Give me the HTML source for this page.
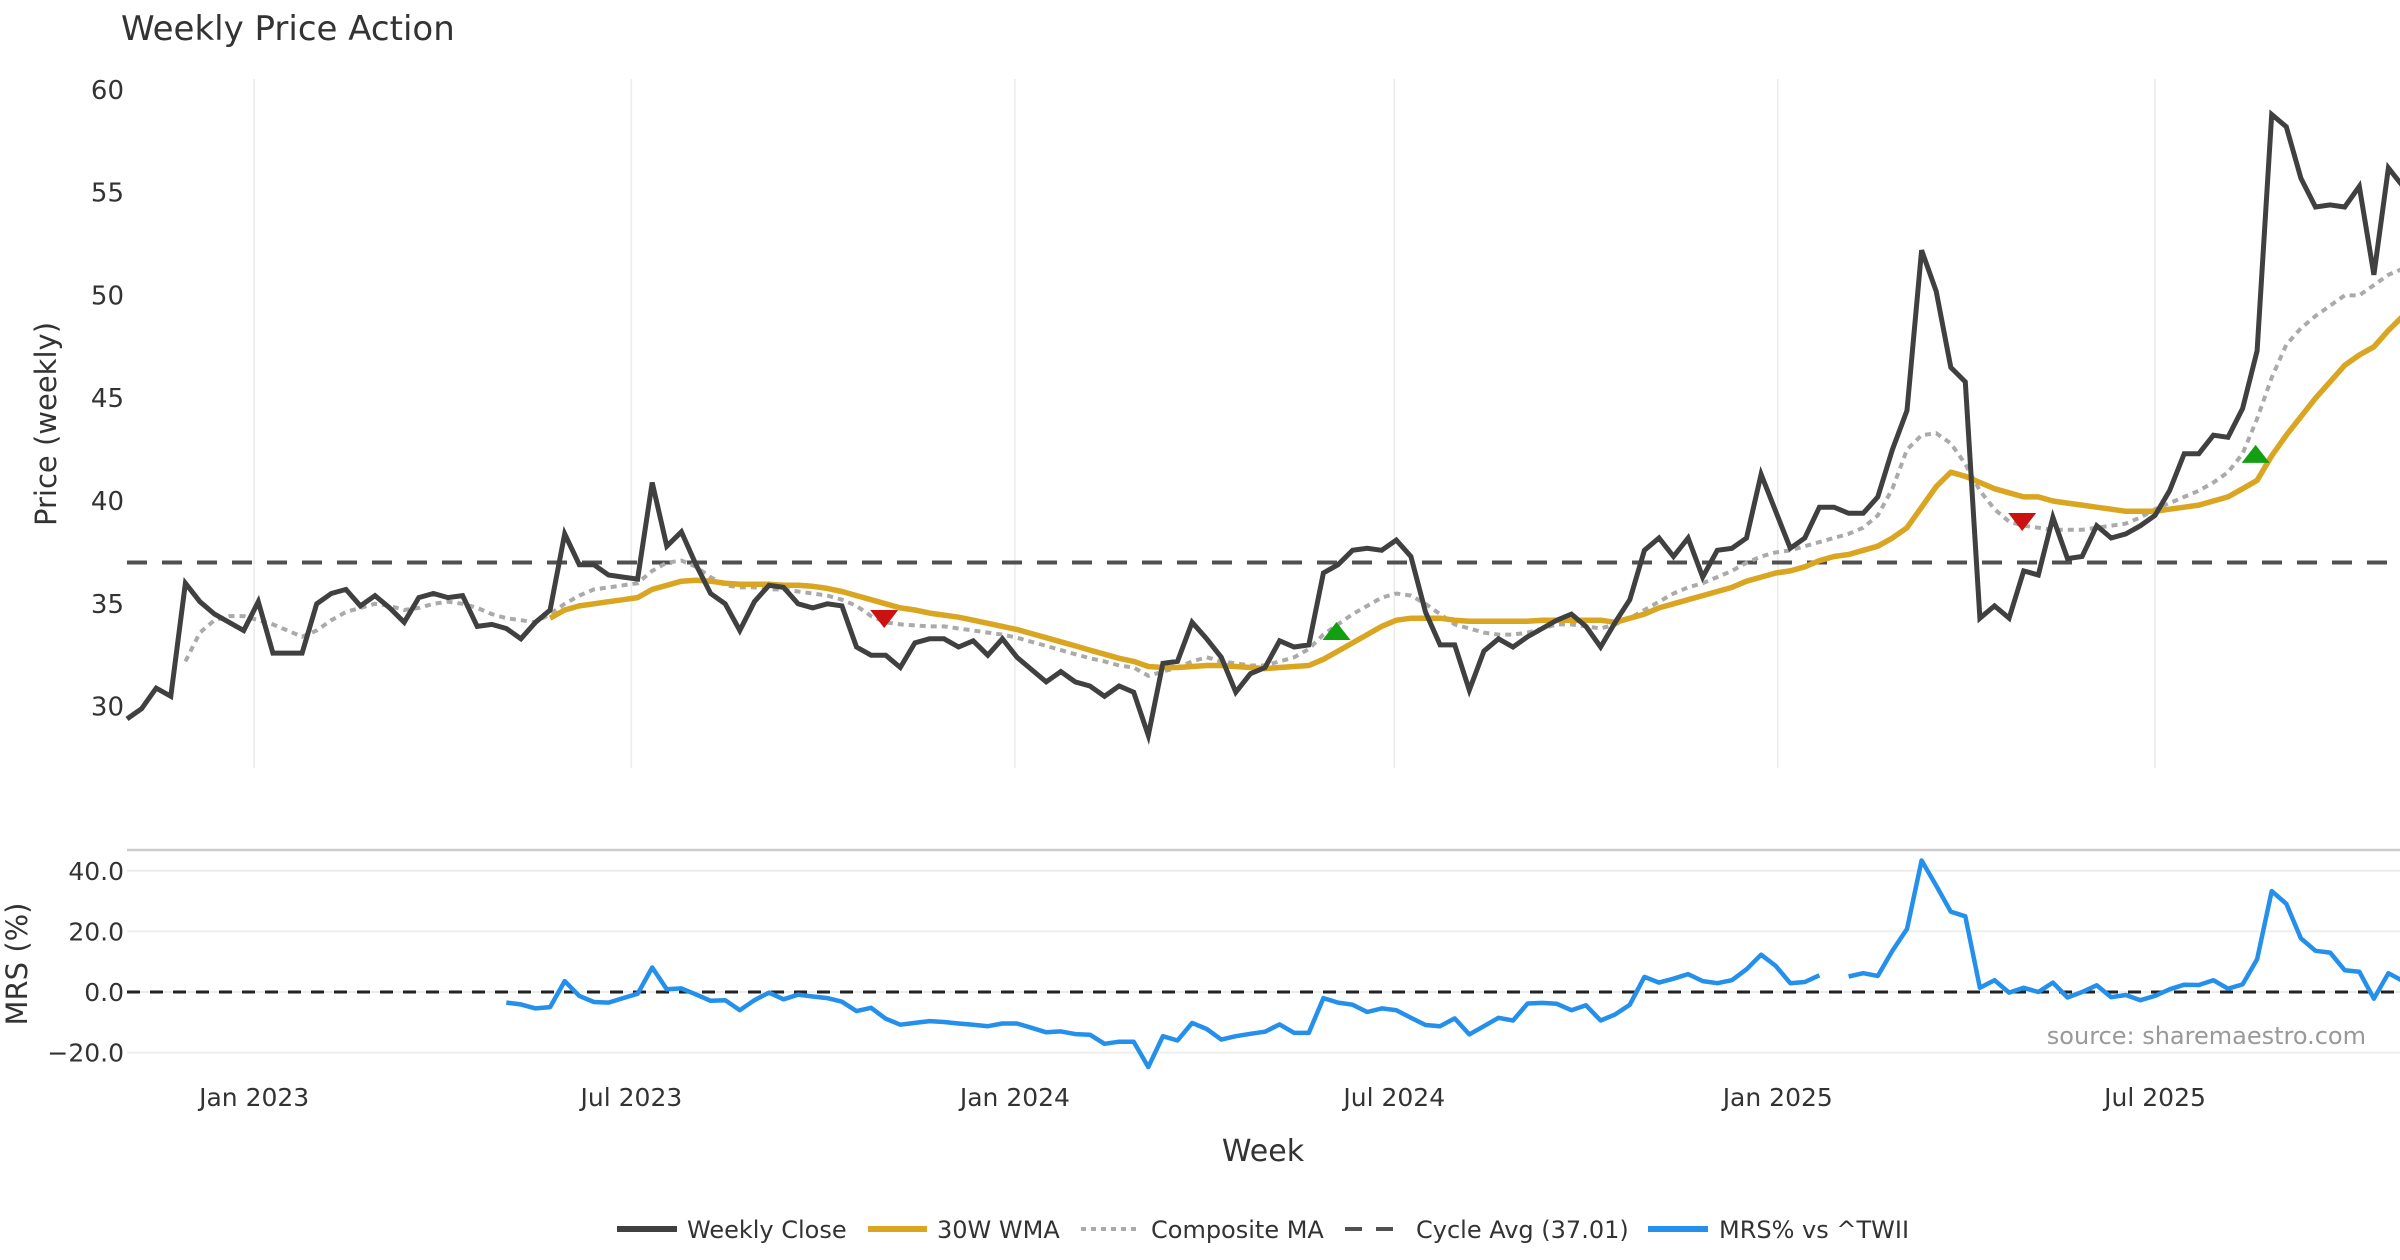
<!DOCTYPE html>
<html><head><meta charset="utf-8">
<style>
html,body{margin:0;padding:0;background:#fff;}
svg{display:block;font-family:"DejaVu Sans","Liberation Sans",sans-serif;}
</style></head>
<body>
<svg id="chart" width="2400" height="1260" viewBox="0 0 2400 1260" xmlns="http://www.w3.org/2000/svg">
  <text x="121" y="40" font-size="34" fill="#333">Weekly Price Action</text>
  <g id="grid"></g>
  <g id="axes"></g>
  <g id="series"></g>
  <text transform="translate(56,424) rotate(-90)" text-anchor="middle" font-size="29" fill="#333">Price (weekly)</text>
  <text transform="translate(27,964) rotate(-90)" text-anchor="middle" font-size="29" fill="#333">MRS (%)</text>
  <text x="1263" y="1161" text-anchor="middle" font-size="30" fill="#333">Week</text>
  <text x="2366" y="1044" text-anchor="end" font-size="24" fill="#999">source: sharemaestro.com</text>
  <g id="legend" font-size="24" fill="#333">
    <g>
      <line x1="617" y1="1229" x2="677" y2="1229" stroke="#404040" stroke-width="6"/>
      <text x="687" y="1238">Weekly Close</text></g>
    <g>
      <line x1="868" y1="1229" x2="927" y2="1229" stroke="#DAA520" stroke-width="6"/>
      <text x="937" y="1238">30W WMA</text></g>
    <g>
      <line x1="1081" y1="1229" x2="1140" y2="1229" stroke="#aaa" stroke-width="4" stroke-dasharray="5,5"/>
      <text x="1151" y="1238">Composite MA</text></g>
    <g>
      <line x1="1345" y1="1229" x2="1405" y2="1229" stroke="#505050" stroke-width="4" stroke-dasharray="17,14"/>
      <text x="1416" y="1238">Cycle Avg (37.01)</text></g>
    <g>
      <line x1="1648" y1="1229" x2="1708" y2="1229" stroke="#2490ec" stroke-width="6"/>
      <text x="1719" y="1238">MRS% vs ^TWII</text></g>
  </g>
</svg>
<script>
const startDate = "2022-11-01";
const priceTicks = [30, 35, 40, 45, 50, 55, 60];
const mrsTicks = [-20, 0, 20, 40];
const mrsTickLabels = ["\u221220.0", "0.0", "20.0", "40.0"];
const dateTicks = ["2023-01-01","2023-07-01","2024-01-01","2024-07-01","2025-01-01","2025-07-01"];
const dateTickLabels = ["Jan 2023","Jul 2023","Jan 2024","Jul 2024","Jan 2025","Jul 2025"];
const cycleAvg = 37.01;
const weeklyClose = [29.4,29.9,30.9,30.5,36.0,35.1,34.5,34.1,33.7,35.1,32.6,32.6,32.6,35.0,35.5,35.7,34.9,35.4,34.8,34.1,35.3,35.5,35.3,35.4,33.9,34.0,33.8,33.3,34.1,34.7,38.4,36.9,36.9,36.4,36.3,36.2,40.9,37.8,38.5,36.9,35.5,35.0,33.7,35.1,35.9,35.8,35.0,
34.8,35.0,34.9,32.9,32.5,32.5,31.9,33.1,33.3,33.3,32.9,33.2,32.5,33.3,32.4,31.8,31.2,31.7,31.2,31.0,30.5,31.0,30.7,28.6,32.1,32.2,34.1,33.3,32.4,30.7,31.6,31.9,33.2,32.9,33.0,36.5,36.9,37.6,37.7,37.6,38.1,37.3,34.6,33.0,33.0,30.8,32.7,33.3,32.9,33.4,33.8,34.2,34.5,33.9,32.9,
34.1,35.2,37.6,38.2,37.3,38.2,36.3,37.6,37.7,38.2,41.3,39.5,37.7,38.2,39.7,39.7,39.4,39.4,40.2,42.5,44.4,52.2,50.2,46.5,45.8,34.3,34.9,34.3,36.6,36.4,39.2,37.2,37.3,38.8,38.2,38.4,38.8,39.3,40.5,42.3,42.3,43.2,43.1,44.5,47.3,58.8,58.2,55.7,54.3,54.4,54.3,55.3,51.0,56.2,55.3];
const wma30 = Array(29).fill(null).concat([34.3,34.7,34.9,35.0,35.1,35.2,35.3,35.7,35.9,36.1,36.15,36.1,36.0,35.95,35.95,35.95,35.9,
35.9,35.85,35.75,35.6,35.4,35.2,35.0,34.8,34.7,34.55,34.45,34.35,34.2,34.05,33.9,33.75,33.55,33.35,33.15,32.95,32.75,32.55,32.35,32.2,31.95,31.9,31.9,31.95,32.0,32.0,31.95,31.9,31.85,31.9,31.95,32.0,32.3,32.7,33.1,33.5,33.9,34.2,34.3,34.3,34.3,34.2,34.15,34.15,34.15,34.15,34.15,34.2,34.2,34.2,34.2,34.2,
34.1,34.3,34.5,34.8,35.0,35.2,35.4,35.6,35.8,36.1,36.3,36.5,36.6,36.8,37.1,37.3,37.4,37.6,37.8,38.2,38.7,39.7,40.7,41.4,41.2,40.9,40.6,40.4,40.2,40.2,40.0,39.9,39.8,39.7,39.6,39.5,39.5,39.5,39.6,39.7,39.8,40.0,40.2,40.6,41.0,42.2,43.2,44.1,45.0,45.8,46.6,47.1,47.5,48.3,49.0]);
const compositeMA = Array(4).fill(null).concat([32.2,33.6,34.2,34.4,34.4,34.2,34.0,33.7,33.4,33.7,34.2,34.6,34.8,35.0,34.9,34.7,34.8,35.0,35.1,35.0,34.8,34.5,34.3,34.2,34.1,34.5,35.0,35.4,35.7,35.8,35.9,36.0,36.6,37.0,37.1,36.8,36.3,35.9,35.8,35.8,35.7,35.7,35.6,
35.5,35.4,35.2,34.9,34.4,34.1,34.0,33.95,33.9,33.9,33.8,33.7,33.6,33.5,33.35,33.15,32.95,32.75,32.55,32.35,32.2,32.0,31.9,31.5,31.7,31.9,32.2,32.4,32.2,32.1,32.0,32.0,32.2,32.4,32.8,33.5,34.0,34.5,34.9,35.3,35.5,35.4,35.0,34.5,34.0,33.8,33.6,33.5,33.5,33.6,33.8,34.0,34.0,33.9,33.8,
34.0,34.3,34.7,35.1,35.5,35.8,36.0,36.3,36.6,37.0,37.3,37.5,37.6,37.8,38.0,38.2,38.4,38.7,39.3,40.6,42.5,43.2,43.3,42.8,41.8,40.5,39.6,39.0,38.8,38.7,38.6,38.6,38.6,38.7,38.8,38.9,39.2,39.6,39.9,40.2,40.5,40.9,41.4,42.3,44.0,46.0,47.6,48.4,49.0,49.5,50.0,50.0,50.5,51.0,51.3]);
const mrsPct = Array(26).fill(null).concat([-3.5,-4.1,-5.4,-5.0,3.6,-1.3,-3.3,-3.5,-2.0,-0.6,8.1,0.9,1.2,-0.8,-2.9,-2.7,-6.0,-2.7,-0.2,-2.4,-0.9,-1.5,-2.0,-3.2,-6.3,-5.2,-8.8,-10.8,-10.2,-9.6,-9.9,-10.4,-10.8,-11.3,-10.4,-10.4,-11.8,-13.3,-13.0,-13.9,-14.1,-17.1,-16.4,-16.4,-24.8,
-14.6,-16.0,-10.2,-12.2,-15.7,-14.6,-13.8,-13.1,-10.7,-13.5,-13.5,-2.0,-3.5,-4.2,-6.6,-5.4,-6.0,-8.5,-10.9,-11.3,-8.7,-14.0,-11.3,-8.5,-9.4,-3.8,-3.6,-3.9,-6.0,-4.4,-9.4,-7.4,-4.2,5.0,3.1,4.4,5.9,3.6,2.9,3.9,7.5,12.3,8.6,2.9,3.3,5.5,null,
5.1,6.2,5.3,13.6,20.8,43.4,35.1,26.5,25.0,1.4,3.9,-0.2,1.4,0.0,3.1,-1.8,0.0,2.2,-1.7,-1.0,-2.7,-1.3,0.9,2.4,2.3,3.9,1.1,2.5,10.8,33.3,29.1,17.7,13.6,13.0,7.2,6.7,-2.2,6.2,3.6]);
const signalIndex = [52, 83, 130, 146];
const signalValue = [34.26, 33.68, 38.98, 42.29];
const signalType = ["sell", "buy", "sell", "buy"];

const NS = "http://www.w3.org/2000/svg";
const X0 = 127, WEEK = 14.59, PLOT_R = 2400;
const xIdx = i => X0 + WEEK * i;
const xDate = d => X0 + WEEK * ((Date.parse(d) - Date.parse(startDate)) / 86400000 / 7);
const yPrice = v => 706.6 - (v - 30) * 20.56;
const yMrs = v => 992 - v * 3.03;
function mk(tag, attrs, parent) {
  const el = document.createElementNS(NS, tag);
  for (const k in attrs) el.setAttribute(k, attrs[k]);
  parent.appendChild(el);
  return el;
}
const grid = document.getElementById('grid');
const axes = document.getElementById('axes');
const series = document.getElementById('series');

dateTicks.forEach((d, k) => {
  const x = xDate(d);
  const g = mk('line', {x1: x, x2: x, y1: 79, y2: 768, stroke: '#ebebeb', 'stroke-width': 1.5}, grid);
  
  
  const t = mk('text', {x: x, y: 1106, 'text-anchor': 'middle', 'font-size': 25, fill: '#333'}, axes);
  t.textContent = dateTickLabels[k];
  
  
});
priceTicks.forEach(v => {
  const t = mk('text', {x: 124, y: yPrice(v) + 9, 'text-anchor': 'end', 'font-size': 26, fill: '#333'}, axes);
  t.textContent = String(v);
  
  
});
const border = mk('line', {x1: 127, x2: PLOT_R, y1: 850, y2: 850, stroke: '#cccccc', 'stroke-width': 2.5}, grid);


mrsTicks.forEach((v, k) => {
  const y = yMrs(v);
  const g = mk('line', {x1: 127, x2: PLOT_R, y1: y, y2: y, stroke: '#eeeeee', 'stroke-width': 2}, grid);
  
  
  const t = mk('text', {x: 124, y: y + 9, 'text-anchor': 'end', 'font-size': 25, fill: '#333'}, axes);
  t.textContent = mrsTickLabels[k];
  
  
});

function pathFrom(arr, yf) {
  let d = '', pen = false;
  arr.forEach((v, i) => {
    if (v === null) { pen = false; return; }
    d += (pen ? 'L' : 'M') + xIdx(i).toFixed(1) + ',' + yf(v).toFixed(1);
    pen = true;
  });
  return d;
}
const cyc = mk('line', {x1: 127, x2: PLOT_R, y1: yPrice(cycleAvg), y2: yPrice(cycleAvg), stroke: '#505050', 'stroke-width': 4, 'stroke-dasharray': '20,15'}, series);


const comp = mk('path', {d: pathFrom(compositeMA, yPrice), fill: 'none', stroke: '#aaaaaa', 'stroke-width': 4, 'stroke-dasharray': '6,5'}, series);


const wma = mk('path', {d: pathFrom(wma30, yPrice), fill: 'none', stroke: '#DAA520', 'stroke-width': 5.5, 'stroke-linejoin': 'round'}, series);


const close = mk('path', {d: pathFrom(weeklyClose, yPrice), fill: 'none', stroke: '#404040', 'stroke-width': 5}, series);


signalIndex.forEach((si, k) => {
  const cx = xIdx(si) - 1.5, cy = yPrice(signalValue[k]);
  const pts = signalType[k] === 'sell'
    ? `${cx-14},${cy-9} ${cx+14},${cy-9} ${cx},${cy+9}`
    : `${cx-14},${cy+9} ${cx+14},${cy+9} ${cx},${cy-9}`;
  const p = mk('polygon', {points: pts, fill: signalType[k] === 'sell' ? '#cc1111' : '#12a012'}, series);
  
  
});
const zero = mk('line', {x1: 127, x2: PLOT_R, y1: yMrs(0), y2: yMrs(0), stroke: '#222', 'stroke-width': 3, 'stroke-dasharray': '13,10'}, series);


const mrs = mk('path', {d: pathFrom(mrsPct, yMrs), fill: 'none', stroke: '#2490ec', 'stroke-width': 4.5, 'stroke-linejoin': 'round'}, series);


</script>
</body></html>
